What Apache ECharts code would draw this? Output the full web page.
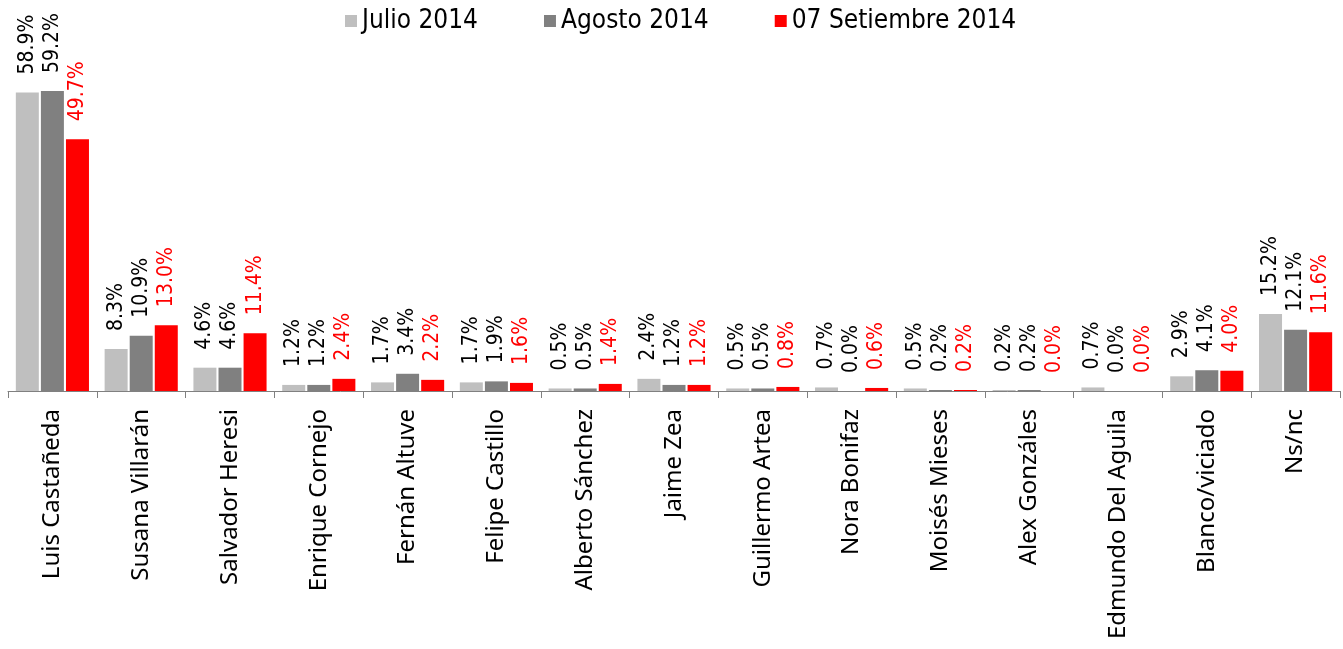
<!DOCTYPE html>
<html>
<head>
<meta charset="utf-8">
<script src="https://cdn.jsdelivr.net/npm/echarts@6/dist/echarts.min.js"></script>
<style>html,body{margin:0;padding:0;background:#fff;}#c{width:1343px;height:649px;}</style>
</head>
<body>
<div id="c"></div>
<script>
const categories = ["Luis Castañeda","Susana Villarán","Salvador Heresi","Enrique Cornejo","Fernán Altuve","Felipe Castillo","Alberto Sánchez","Jaime Zea","Guillermo Artea","Nora Bonifaz","Moisés Mieses","Alex Gonzáles","Edmundo Del Aguila","Blanco/viciado","Ns/nc"];
const seriesNames = ["Julio 2014","Agosto 2014","07 Setiembre 2014"];
const julio = [58.9,8.3,4.6,1.2,1.7,1.7,0.5,2.4,0.5,0.7,0.5,0.2,0.7,2.9,15.2];
const agosto = [59.2,10.9,4.6,1.2,3.4,1.9,0.5,1.2,0.5,0.0,0.2,0.2,0.0,4.1,12.1];
const setiembre = [49.7,13.0,11.4,2.4,2.2,1.6,1.4,1.2,0.8,0.6,0.2,0.0,0.0,4.0,11.6];

const colors = ['#bfbfbf','#808080','#ff0000'];
const labelColors = ['#000000','#000000','#ff0000'];
const dataSets = [julio, agosto, setiembre];

const chart = echarts.init(document.getElementById('c'), null, {renderer:'canvas'});
chart.setOption({
  animation:false,
  backgroundColor:'#ffffff',
  legend:{
    data: seriesNames,
    left: 340, top: 3,
    icon:'rect', itemWidth:12, itemHeight:12, itemGap:66,
    textStyle:{fontFamily:'DejaVu Sans Condensed', fontSize:26, color:'#000'}
  },
  grid:{left:8, right:3, top:87, bottom:258, containLabel:false},
  xAxis:{
    type:'category', data:categories,
    axisLine:{lineStyle:{color:'#808080', width:1}},
    axisTick:{show:true, length:7, lineStyle:{color:'#808080', width:1}},
    axisLabel:{rotate:90, margin:18, interval:0, color:'#000', fontFamily:'Noto Sans', fontSize:24}
  },
  yAxis:{type:'value', min:0, max:60, show:false, splitLine:{show:false}},
  series: dataSets.map((d,i)=>({
    name: seriesNames[i], type:'bar', data:d,
    barWidth:23, barGap:'9%',
    itemStyle:{color:colors[i]},
    label:{
      show:true, position:'top', rotate:90, distance:18,
      align:'left', verticalAlign:'middle',
      formatter: p => p.value.toFixed(1) + '%',
      color: labelColors[i], fontFamily:'DejaVu Sans Condensed', fontSize:21
    }
  }))
});
</script>
</body>
</html>
